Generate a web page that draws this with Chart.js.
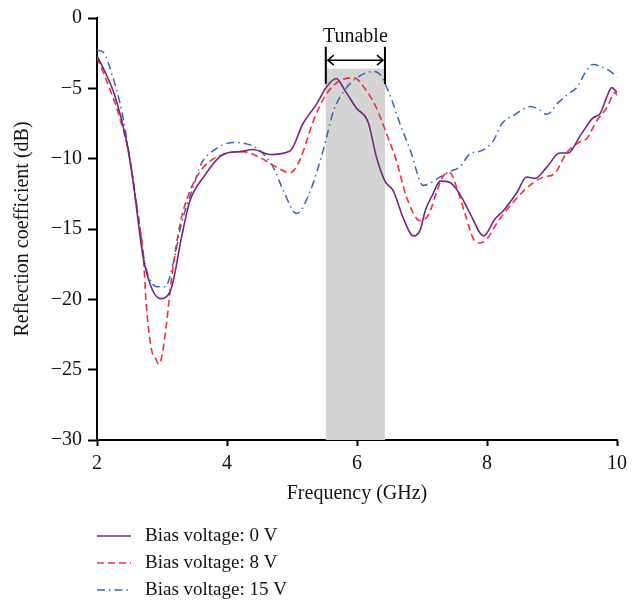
<!DOCTYPE html>
<html lang="en">
<head>
  <meta charset="UTF-8">
  <title>Reflection coefficient</title>
  <script src="https://cdn.jsdelivr.net/npm/chart.js"></script>
  <style>
    body { margin: 0; background: #fff; }
  </style>
</head>
<body>
<canvas id="reflChart" width="639" height="603"></canvas>

<script>
  // frequency (GHz) / reflection coefficient (dB)
  const freq0 = [2.0, 2.1, 2.28, 2.46, 2.56, 2.71, 2.85, 2.98, 3.15, 3.3, 3.43, 3.64, 3.94, 4.2, 4.4, 4.66, 4.97, 5.17, 5.38, 5.53, 5.68, 5.82, 5.99, 6.17, 6.3, 6.43, 6.56, 6.71, 6.87, 6.97, 7.05, 7.17, 7.28, 7.43, 7.58, 7.74, 7.95, 8.12, 8.25, 8.46, 8.61, 8.74, 8.92, 9.12, 9.25, 9.43, 9.63, 9.74, 9.84, 9.92, 10.0];
  const refl0 = [-2.7, -3.6, -5.6, -8.9, -11.8, -17.0, -19.3, -19.95, -19.1, -15.6, -13.0, -11.3, -9.7, -9.5, -9.35, -9.7, -9.45, -7.5, -6.1, -4.9, -4.3, -5.2, -6.4, -7.4, -9.9, -11.6, -12.3, -14.2, -15.5, -15.1, -13.7, -12.5, -11.6, -11.7, -12.5, -13.9, -15.5, -14.3, -13.7, -12.4, -11.3, -11.4, -10.6, -9.6, -9.6, -8.4, -7.1, -6.8, -5.65, -4.95, -5.3];

  const freq8 = [2.0, 2.1, 2.35, 2.51, 2.61, 2.71, 2.76, 2.84, 2.9, 2.95, 3.0, 3.07, 3.15, 3.28, 3.43, 3.64, 3.94, 4.24, 4.5, 4.76, 4.97, 5.12, 5.33, 5.53, 5.74, 5.95, 6.15, 6.3, 6.46, 6.61, 6.76, 6.97, 7.1, 7.23, 7.33, 7.43, 7.53, 7.66, 7.79, 7.89, 8.0, 8.15, 8.4, 8.66, 8.87, 9.03, 9.23, 9.43, 9.53, 9.69, 9.84, 9.97, 10.0];
  const refl8 = [-2.8, -3.9, -7.1, -10.1, -13.4, -16.8, -20.5, -23.6, -24.2, -24.6, -24.0, -21.7, -18.4, -14.6, -12.3, -10.6, -9.7, -9.5, -9.9, -10.6, -11.0, -10.1, -7.3, -5.4, -4.45, -4.25, -5.2, -6.4, -8.3, -10.2, -12.7, -14.4, -14.0, -12.3, -11.2, -11.0, -12.0, -13.9, -15.7, -16.0, -15.7, -14.6, -13.1, -11.9, -11.3, -11.1, -9.55, -8.8, -8.6, -7.3, -6.4, -5.3, -5.5];

  const freq15 = [2.0, 2.1, 2.23, 2.38, 2.51, 2.64, 2.74, 2.92, 3.05, 3.17, 3.3, 3.48, 3.6, 3.8, 4.1, 4.3, 4.5, 4.71, 4.87, 5.07, 5.28, 5.48, 5.64, 5.84, 6.05, 6.25, 6.35, 6.5, 6.66, 6.82, 7.02, 7.28, 7.43, 7.58, 7.74, 7.91, 8.1, 8.23, 8.4, 8.67, 8.8, 8.92, 9.1, 9.25, 9.38, 9.53, 9.63, 9.78, 9.9, 10.0];
  const refl15 = [-2.3, -2.45, -4.0, -6.6, -10.1, -14.2, -17.5, -19.1, -19.1, -17.5, -14.6, -12.0, -10.4, -9.4, -8.85, -8.95, -9.4, -10.6, -12.3, -13.9, -12.3, -9.4, -6.6, -4.95, -4.1, -3.8, -4.0, -5.4, -7.5, -9.4, -11.9, -11.3, -10.9, -10.6, -9.65, -9.45, -8.7, -7.5, -6.95, -6.3, -6.5, -6.85, -6.0, -5.4, -4.95, -3.75, -3.3, -3.5, -3.8, -4.2];

  const seriesNames = ['Bias voltage: 0 V', 'Bias voltage: 8 V', 'Bias voltage: 15 V'];

  // tunable band (GHz) and its shading top (dB)
  const bandFreq = [5.52, 6.43];
  const bandTop = -3.6;
  const bandLabel = 'Tunable';

  const serif = '"Liberation Serif", "DejaVu Serif", serif';

  function toPoints(xs, ys) {
    return xs.map((x, i) => ({ x: x, y: ys[i] }));
  }

  function minus(v) {
    return String(v).replace('-', '\u2212');
  }

  // grey band behind the curves, arrow + label on top
  const tunablePlugin = {
    id: 'tunable',
    beforeDatasetsDraw(chart) {
      const { ctx, scales: { x, y } } = chart;
      const x0 = x.getPixelForValue(bandFreq[0]);
      const x1 = x.getPixelForValue(bandFreq[1]);
      const yt = y.getPixelForValue(bandTop);
      const yb = y.getPixelForValue(-30);
      ctx.save();
      ctx.fillStyle = 'rgb(212,212,212)';
      ctx.fillRect(x0, yt, x1 - x0, yb - yt);
      ctx.restore();
    },
    afterDatasetsDraw(chart) {
      const { ctx, scales: { x, y } } = chart;
      const x0 = x.getPixelForValue(bandFreq[0]);
      const x1 = x.getPixelForValue(bandFreq[1]);
      const yTop = y.getPixelForValue(-2.05);
      const yBot = y.getPixelForValue(-4.7);
      const yArr = y.getPixelForValue(-3.0);
      ctx.save();
      ctx.strokeStyle = '#000';
      ctx.lineWidth = 2;
      ctx.beginPath();
      ctx.moveTo(x0, yTop); ctx.lineTo(x0, yBot);
      ctx.moveTo(x1, yTop); ctx.lineTo(x1, yBot);
      ctx.stroke();
      ctx.lineWidth = 1.5;
      ctx.beginPath();
      ctx.moveTo(x0 + 2, yArr); ctx.lineTo(x1 - 2, yArr);
      ctx.moveTo(x0 + 8, yArr - 5); ctx.lineTo(x0 + 2, yArr); ctx.lineTo(x0 + 8, yArr + 5);
      ctx.moveTo(x1 - 8, yArr - 5); ctx.lineTo(x1 - 2, yArr); ctx.lineTo(x1 - 8, yArr + 5);
      ctx.stroke();
      ctx.fillStyle = '#111';
      ctx.font = '20px ' + serif;
      ctx.textAlign = 'center';
      ctx.textBaseline = 'middle';
      ctx.fillText(bandLabel, (x0 + x1) / 2, y.getPixelForValue(-1.3));
      ctx.restore();
    }
  };

  // legend stacked in one column under the axis
  const stackedLegend = {
    id: 'stackedLegend',
    afterDraw(chart) {
      const ctx = chart.ctx;
      const left = chart.chartArea.left;
      ctx.save();
      chart.data.datasets.forEach((ds, i) => {
        const yy = 536 + i * 27;
        ctx.strokeStyle = ds.borderColor;
        ctx.lineWidth = ds.borderWidth;
        ctx.setLineDash(ds.borderDash || []);
        ctx.beginPath();
        ctx.moveTo(left, yy);
        ctx.lineTo(left + 34, yy);
        ctx.stroke();
        ctx.setLineDash([]);
        ctx.fillStyle = '#111';
        ctx.font = '19px ' + serif;
        ctx.textAlign = 'left';
        ctx.textBaseline = 'middle';
        ctx.fillText(ds.label, left + 48, yy);
      });
      ctx.restore();
    }
  };

  new Chart(document.getElementById('reflChart'), {
    type: 'line',
    data: {
      datasets: [
        {
          label: seriesNames[0],
          data: toPoints(freq0, refl0),
          borderColor: 'rgb(118,38,122)',
          borderWidth: 1.6,
          pointRadius: 0,
          cubicInterpolationMode: 'monotone',
          fill: false
        },
        {
          label: seriesNames[1],
          data: toPoints(freq8, refl8),
          borderColor: 'rgb(240,48,56)',
          borderWidth: 1.6,
          borderDash: [7, 4],
          pointRadius: 0,
          cubicInterpolationMode: 'monotone',
          fill: false
        },
        {
          label: seriesNames[2],
          data: toPoints(freq15, refl15),
          borderColor: 'rgb(58,96,190)',
          borderWidth: 1.5,
          borderDash: [8, 4, 1.5, 4],
          pointRadius: 0,
          cubicInterpolationMode: 'monotone',
          fill: false
        }
      ]
    },
    options: {
      responsive: false,
      animation: false,
      layout: {
        padding: { left: 0, right: 22, top: 17, bottom: 93 }
      },
      plugins: {
        legend: { display: false },
        tooltip: { enabled: false }
      },
      scales: {
        x: {
          type: 'linear',
          min: 2,
          max: 10,
          afterFit(scale) { scale.height = 70; },
          ticks: {
            stepSize: 2,
            color: '#111',
            padding: 6,
            maxRotation: 0,
            font: { family: serif, size: 20 }
          },
          grid: { drawOnChartArea: false, tickLength: 6, tickWidth: 2, color: '#000' },
          border: { color: '#000', width: 2 },
          title: {
            display: true,
            text: 'Frequency (GHz)',
            color: '#111',
            font: { family: serif, size: 20 },
            padding: { top: 0, bottom: 4 }
          }
        },
        y: {
          min: -30,
          max: 0,
          afterFit(scale) { scale.width = 97; },
          ticks: {
            stepSize: 5,
            color: '#111',
            padding: 6,
            font: { family: serif, size: 20 },
            callback: (v) => minus(v)
          },
          grid: { drawOnChartArea: false, tickLength: 9, tickWidth: 2, color: '#000' },
          border: { color: '#000', width: 2 },
          title: {
            display: true,
            text: 'Reflection coefficient (dB)',
            color: '#111',
            font: { family: serif, size: 20 },
            padding: { top: 11, bottom: 4 }
          }
        }
      }
    },
    plugins: [tunablePlugin, stackedLegend]
  });
</script>
</body>
</html>
